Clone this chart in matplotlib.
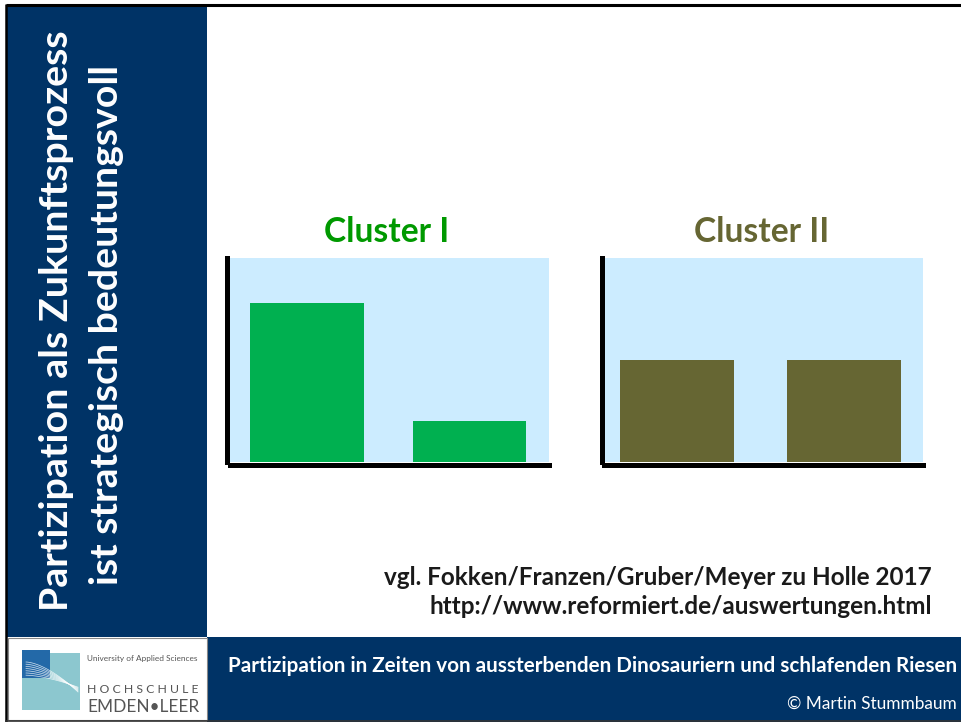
import matplotlib
matplotlib.use('Agg')
import matplotlib.pyplot as plt
from matplotlib.patches import Rectangle
import numpy as np

# ----------------------------
# Daten
# ----------------------------
cluster_titles = ['Cluster I', 'Cluster II']
cluster1_values = [78, 20]
cluster2_values = [50, 50]
bar_pos = [0, 1]

side_title = ['Partizipation als Zukunftsprozess', 'ist strategisch bedeutungsvoll']
source_lines = ['vgl. Fokken/Franzen/Gruber/Meyer zu Holle 2017',
                'http://www.reformiert.de/auswertungen.html']
footer_title = 'Partizipation in Zeiten von aussterbenden Dinosauriern und schlafenden Riesen'
footer_author = '\u00a9 Martin Stummbaum'

# ----------------------------
# Farben / Schrift
# ----------------------------
DARK_BLUE = '#003366'
PANEL_BLUE = '#CCECFF'
GREEN_BAR = '#00B050'
GREEN_TXT = '#009900'
OLIVE = '#666633'
FONT = ['Lato', 'DejaVu Sans']
plt.rcParams['font.family'] = FONT

W, H = 962, 722
fig = plt.figure(figsize=(W / 100, H / 100), dpi=100)
fig.patch.set_facecolor('white')

# Hintergrund-Achse in Pixelkoordinaten (y nach unten)
bg = fig.add_axes([0, 0, 1, 1])
bg.set_xlim(0, W)
bg.set_ylim(H, 0)
bg.axis('off')


def px_axes(x0, y0, x1, y1):
    return fig.add_axes([x0 / W, 1 - y1 / H, (x1 - x0) / W, (y1 - y0) / H])


def fit(t, target, vertical=False):
    """Schriftgröße so skalieren, dass der Text die Zielbreite hat"""
    r = fig.canvas.get_renderer()
    bb = t.get_window_extent(r)
    size = bb.height if vertical else bb.width
    t.set_fontsize(t.get_fontsize() * target / size)


# Seitenleiste und Fußzeile
bg.add_patch(Rectangle((7, 5), 200, 632, color=DARK_BLUE, lw=0))
bg.add_patch(Rectangle((207, 637), W - 207, H - 637, color=DARK_BLUE, lw=0))
bg.add_patch(Rectangle((8, 638), 199, 82, facecolor='white', edgecolor='#888888', lw=0.8))
bg.plot([6, W], [4.5, 4.5], color='black', lw=2.2, solid_capstyle='butt')
bg.plot([6.5, 6.5], [4, H], color='black', lw=1.8, solid_capstyle='butt')
bg.plot([6, W], [720.5, 720.5], color='#333333', lw=1.2)

# Logo (vereinfacht)
bg.add_patch(Rectangle((22, 653), 58, 57, color='#8CC7CF', lw=0))
bg.add_patch(Rectangle((22, 650), 28, 28, color='#2369A8', lw=0))
tt = np.linspace(0, 1, 60)
for k in range(7):
    bg.plot(26 + 52 * tt, 662 + k * 2.2 + 30 * tt ** 1.6 * (1 - 0.1 * k),
            color='white', lw=0.5, alpha=0.8)
t = bg.text(87, 661, 'University of Applied Sciences', color='#555555',
            fontsize=6, ha='left', va='baseline')
fit(t, 111)
t = bg.text(87, 693, 'H O C H S C H U L E', color='#555555',
            fontsize=12, ha='left', va='baseline')
fit(t, 111)
t = bg.text(87, 712, 'EMDEN\u2022LEER', color='#555555',
            fontsize=12, ha='left', va='baseline')
fit(t, 111)

# Seitentitel (vertikal)
t = bg.text(57, 321, side_title[0], color='white', fontweight='bold',
            rotation=90, ha='center', va='center', fontsize=24)
fit(t, 582, vertical=True)
t = bg.text(107, 325, side_title[1], color='white', fontweight='bold',
            rotation=90, ha='center', va='center', fontsize=24)
fit(t, fig.texts and 521 or 521, vertical=True)

# Quellenangabe
t1 = bg.text(932, 585, source_lines[0], color='#1a1a1a', fontweight='bold',
             ha='right', va='baseline', fontsize=16)
fit(t1, 549)
t2 = bg.text(932, 614, source_lines[1], color='#1a1a1a', fontweight='bold',
             ha='right', va='baseline', fontsize=t1.get_fontsize())

# Fußzeile
t = bg.text(957, 672, footer_title, color='white', fontweight='bold',
            ha='right', va='baseline', fontsize=12)
fit(t, 725)
t = bg.text(957, 709, footer_author, color='white',
            ha='right', va='baseline', fontsize=11)
fit(t, 170)

# ----------------------------
# Diagramme
# ----------------------------
panels = [
    dict(box=(230, 258, 549, 462), values=cluster1_values, color=GREEN_BAR,
         tcolor=GREEN_TXT, width=0.70, xlim=(-0.475, 1.49), tx=387),
    dict(box=(604, 258, 923, 462), values=cluster2_values, color=OLIVE,
         tcolor=OLIVE, width=0.68, xlim=(-0.437, 1.473), tx=762),
]

title_size = None
for name, p in zip(cluster_titles, panels):
    ax = px_axes(*p['box'])
    ax.set_facecolor(PANEL_BLUE)
    ax.bar(bar_pos, p['values'], width=p['width'], color=p['color'], zorder=2)
    ax.set_xlim(*p['xlim'])
    ax.set_ylim(0, 100)
    ax.set_xticks([])
    ax.set_yticks([])
    for s in ['top', 'right']:
        ax.spines[s].set_visible(False)
    for s in ['left', 'bottom']:
        ax.spines[s].set_linewidth(3.6)
        ax.spines[s].set_color('black')
        ax.spines[s].set_position(('outward', 1.8))
        ax.spines[s].set_capstyle('projecting')
        ax.spines[s].set_zorder(3)

    t = bg.text(p['tx'], 242, name, color=p['tcolor'], fontweight='bold',
                ha='center', va='baseline', fontsize=22)
    if title_size is None:
        fit(t, 125)
        title_size = t.get_fontsize()
    else:
        t.set_fontsize(title_size)

fig.savefig('out.png', dpi=100)
